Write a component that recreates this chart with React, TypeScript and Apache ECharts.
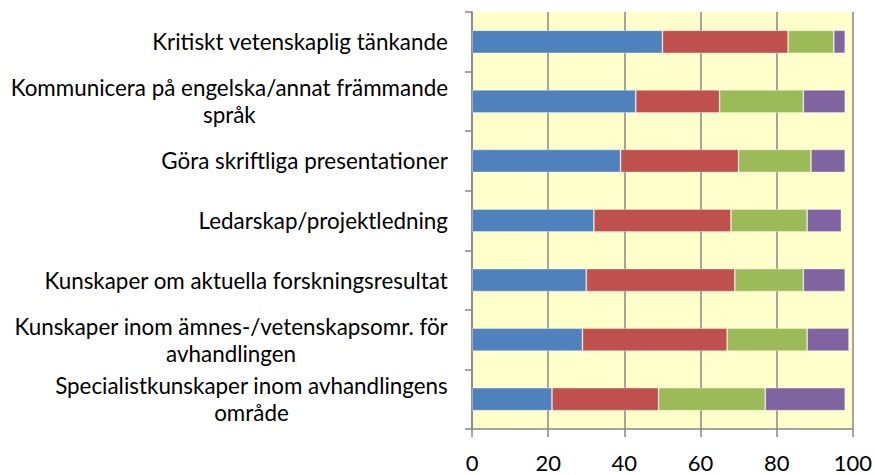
import React, { useEffect, useRef } from "react";
import * as echarts from "echarts";

const categories = [
  "Kritiskt vetenskaplig tänkande",
  "Kommunicera på engelska/annat främmande\nspråk",
  "Göra skriftliga presentationer",
  "Ledarskap/projektledning",
  "Kunskaper om aktuella forskningsresultat",
  "Kunskaper inom ämnes-/vetenskapsomr. för\navhandlingen",
  "Specialistkunskaper inom avhandlingens\nområde",
];

const serie1 = [50, 43, 39, 32, 30, 29, 21];
const serie2 = [33, 22, 31, 36, 39, 38, 28];
const serie3 = [12, 22, 19, 20, 18, 21, 28];
const serie4 = [3, 11, 9, 9, 11, 11, 21];

const seriesNames = ["Serie 1", "Serie 2", "Serie 3", "Serie 4"];
const seriesColors = ["#4F81BD", "#C0504D", "#9BBB59", "#8064A2"];
const xTicks = { min: 0, max: 100, interval: 20 };

export default function App() {
  const ref = useRef<HTMLDivElement>(null);
  useEffect(() => {
    if (!ref.current) return;
    const chart = echarts.init(ref.current, null, { renderer: "svg" });
    const data = [serie1, serie2, serie3, serie4];
    const gray = "#868686";
    chart.setOption({
      animation: false,
      grid: {
        left: 472,
        right: 22,
        top: 12,
        bottom: 46,
        show: true,
        backgroundColor: "#FFFFCC",
        borderWidth: 0,
      },
      xAxis: {
        type: "value",
        min: xTicks.min,
        max: xTicks.max,
        interval: xTicks.interval,
        axisLine: { show: true, lineStyle: { color: gray, width: 1.5 } },
        axisTick: { show: true, length: 8, lineStyle: { color: gray, width: 1.5 } },
        splitLine: { show: true, lineStyle: { color: gray, width: 1.5 } },
        axisLabel: {
          color: "#000",
          fontFamily: "Lato",
          fontSize: 22,
          lineHeight: 22,
          margin: 22,
          verticalAlign: "top",
        },
      },
      yAxis: {
        type: "category",
        inverse: true,
        data: categories,
        axisLine: { show: true, lineStyle: { color: gray, width: 1.5 } },
        axisTick: { show: true, length: 7, lineStyle: { color: gray, width: 1.5 } },
        splitLine: { show: false },
        axisLabel: {
          color: "#000",
          fontFamily: "Lato",
          fontSize: 22.4,
          margin: 24,
          lineHeight: 27,
          formatter: (v: string) =>
            v
              .split("\n")
              .map((l) => `{c|${l}}`)
              .join("\n"),
          rich: {
            c: {
              align: "center",
              fontFamily: "Lato",
              fontSize: 22.4,
              lineHeight: 27,
              color: "#000",
            },
          },
        },
      },
      series: data.map((d, i) => ({
        name: seriesNames[i],
        type: "bar",
        stack: "total",
        barWidth: 23,
        data: d,
        itemStyle: {
          color: seriesColors[i],
          borderColor: "rgba(255,255,255,0.45)",
          borderWidth: 0.8,
        },
      })),
    });
    return () => chart.dispose();
  }, []);
  return (
    <div
      ref={ref}
      style={{ position: "absolute", left: 0, top: 0, width: 875, height: 475 }}
    />
  );
}
